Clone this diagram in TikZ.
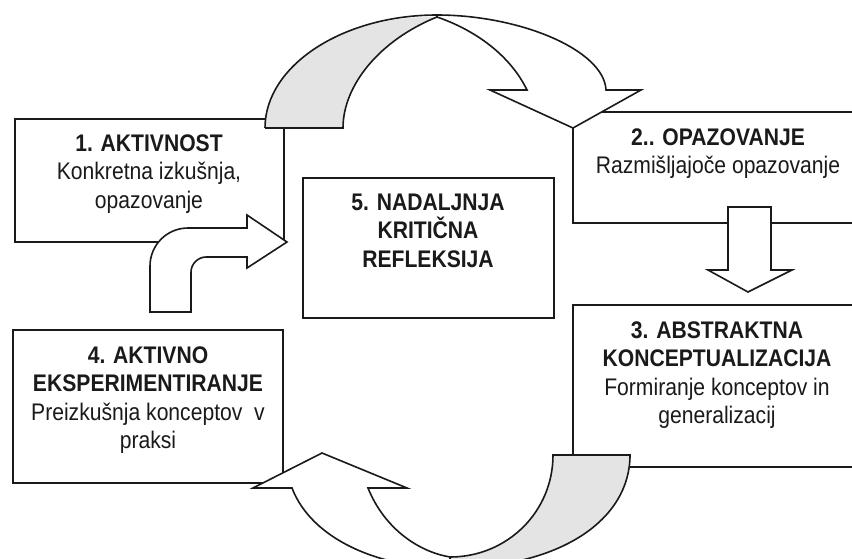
\documentclass[tikz,border=0pt]{standalone}
\usepackage{fontspec}
\setmainfont{Liberation Sans}[FakeStretch=0.88]
\usepackage{xcolor}
\definecolor{inkblack}{HTML}{1A1A1A}
\definecolor{bandgray}{HTML}{E4E4E4}

\begin{document}
\begin{tikzpicture}[x=1pt, y=-1pt,
  boxline/.style={draw=inkblack, line width=1.6pt},
  ribbon/.style={fill=white, draw=inkblack, line width=1.6pt},
  shadedband/.style={fill=bandgray},
  boxtext/.style={anchor=north, align=center, inner sep=0pt,
    font=\fontsize{24}{28.5}\selectfont, text=inkblack}]

  \useasboundingbox (0,0) rectangle (852,558);
  \clip (0,0) rectangle (852,558);
  \fill[white] (0,0) rectangle (852,558);

  % Boxes (drawn first, arrows sit on top)
  \draw[boxline] (15,119) rectangle (284,242);
  \draw[boxline] (573,112) rectangle (870,223);
  \draw[boxline] (303,178) rectangle (554,318);
  \draw[boxline] (573,305) rectangle (870,467);
  \draw[boxline] (13,330) rectangle (283,483);

  % Top ribbon: shaded back side
  \fill[shadedband] (265,128) -- (343,128)
    .. controls (343,85) and (380,40) .. (437,17)
    .. controls (342,15) and (265,66) .. (265,128) -- cycle;
  \draw[inkblack, line width=1.6pt] (265,128) -- (343,128)
    .. controls (343,85) and (380,40) .. (437,17);
  \draw[inkblack, line width=1.6pt] (437,15) .. controls (342,15) and (265,66) .. (265,128);

  % Top ribbon: white front with arrow head
  \filldraw[ribbon] (437,15) .. controls (520,15) and (604,50) .. (606,90)
    -- (641,90) -- (573,128) -- (490,90) -- (527,90)
    .. controls (510,55) and (475,30) .. (437,17) -- cycle;

  % Down arrow between box 2 and box 3
  \filldraw[ribbon] (728,207) -- (771,207) -- (771,270) -- (792,270)
    -- (748,292) -- (708,270) -- (728,270) -- cycle;

  % Bent arrow into box 5
  \filldraw[ribbon] (150,312) -- (150,266)
    .. controls (150,245) and (167,228) .. (188,228) -- (247,228)
    -- (247,215) -- (287,242) -- (247,268) -- (247,257) -- (206,257)
    .. controls (198,257) and (191,264) .. (191,272) -- (191,312) -- cycle;

  % Bottom ribbon: shaded back side
  \fill[shadedband] (450,557) .. controls (507,557) and (553,512) .. (553,455)
    -- (630,455) .. controls (630,520) and (560,568) .. (450,568) -- cycle;
  \draw[inkblack, line width=1.6pt] (450,557) .. controls (507,557) and (553,512) .. (553,455)
    -- (630,455) .. controls (630,520) and (560,568) .. (450,568);

  % Bottom ribbon: white front with arrow head
  \filldraw[ribbon] (368,488) -- (407,488) -- (322,453) -- (253,488) -- (292,488)
    .. controls (312,540) and (380,568) .. (450,568) -- (450,557)
    .. controls (420,552) and (385,530) .. (368,488) -- cycle;

  % Texts
  \node[boxtext] (aktivnost) at (149,134.5)
    {\textbf{1. AKTIVNOST}\\Konkretna izkušnja,\\opazovanje};
  \node[boxtext] (opazovanje) at (718,128.5)
    {\textbf{2.. OPAZOVANJE}\\Razmišljajoče opazovanje};
  \node[boxtext] (konceptualizacija) at (717,321.5)
    {\textbf{3. ABSTRAKTNA}\\\textbf{KONCEPTUALIZACIJA}\\Formiranje konceptov in\\generalizacij};
  \node[boxtext] (eksperimentiranje) at (148,346.5)
    {\textbf{4. AKTIVNO}\\\textbf{EKSPERIMENTIRANJE}\\Preizkušnja konceptov~ v\\praksi};
  \node[boxtext] (refleksija) at (428,193.5)
    {\textbf{5. NADALJNJA}\\\textbf{KRITIČNA}\\\textbf{REFLEKSIJA}};

\end{tikzpicture}
\end{document}
